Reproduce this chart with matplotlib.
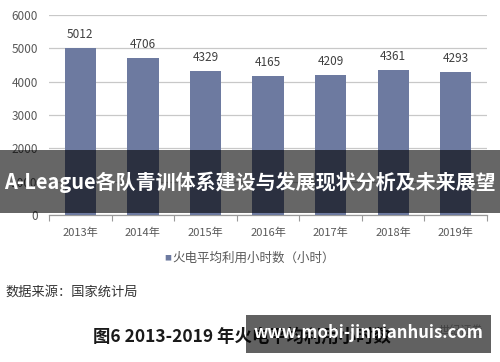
import matplotlib
matplotlib.use('Agg')
import matplotlib.pyplot as plt
from matplotlib.patches import Rectangle

plt.rcParams['font.family'] = ['Noto Sans CJK SC', 'DejaVu Sans']
plt.rcParams['axes.unicode_minus'] = False

# ===== data =====
years = ['2013年', '2014年', '2015年', '2016年', '2017年', '2018年', '2019年']
hours = [5012, 4706, 4329, 4165, 4209, 4361, 4293]
y_ticks = [0, 1000, 2000, 3000, 4000, 5000, 6000]

legend_label = '火电平均利用小时数（小时）'
source_text = '数据来源：国家统计局'
caption = '图6 2013-2019 年火电平均利用小时数'
banner = 'A-League各队青训体系建设与发展现状分析及未来展望'
watermark = 'www.mobi-jinnianhuis.com'

BAR_C = '#6d7aa0'
TXT_C = '#595959'

fig = plt.figure(figsize=(5, 3.62), dpi=100)
ax = fig.add_axes([0.098, 0.406, 0.876, 0.5525])

x = range(len(years))
ax.bar(x, hours, width=0.5, color=BAR_C, zorder=3)
for xi, v in zip(x, hours):
    ax.annotate(str(v), (xi, v), xytext=(0, 5), textcoords='offset points',
                ha='center', va='bottom', fontsize=8.5, color='#404040')

ax.set_xlim(-0.5, len(years) - 0.5)
ax.set_ylim(0, 6000)
ax.set_yticks(y_ticks)
ax.set_yticklabels([str(t) for t in y_ticks], fontsize=8.5, color=TXT_C)
ax.set_xticks(list(x))
ax.set_xticklabels(years, fontsize=8, color=TXT_C)
ax.set_xticks([i - 0.5 for i in range(len(years) + 1)], minor=True)
ax.tick_params(axis='x', which='major', length=0, pad=9)
ax.tick_params(axis='x', which='minor', length=4, color='#999999', width=0.8)
ax.tick_params(axis='y', length=0, pad=8)
ax.grid(axis='y', color='#c8c8c8', lw=0.9, zorder=0)
for s in ['top', 'right', 'left']:
    ax.spines[s].set_visible(False)
ax.spines['bottom'].set_color('#999999')
ax.spines['bottom'].set_linewidth(0.9)

# legend
fig.text(0.336, 1 - 258 / 362, '■', fontsize=5, color=BAR_C, ha='center', va='center')
fig.text(0.344, 1 - 258 / 362, legend_label, fontsize=9, color=TXT_C, ha='left', va='center')

fig.text(0.01, 1 - 292 / 362, source_text, fontsize=9.5, color='#333333', ha='left', va='center')
fig.text(0.186, 1 - 337 / 362, caption, fontsize=12.5, fontweight='bold', color='#1a1a1a',
         ha='left', va='center')

# overlays
fig.patches.append(Rectangle((0, 1 - 213 / 362), 1, 63 / 362, transform=fig.transFigure,
                             facecolor='black', alpha=0.6, edgecolor='none', zorder=5))
fig.text(0.5, 1 - 182 / 362, banner, fontsize=14.4, fontweight='bold', color='white',
         ha='center', va='center', zorder=6)

fig.text(0.965, 1 - 330 / 362, '世纪证券', fontsize=8, color='#aaaaaa', ha='right',
         va='center', zorder=4)
fig.patches.append(Rectangle((246 / 500, 1 - 353 / 362), 245 / 500, 38 / 362,
                             transform=fig.transFigure, facecolor='black', alpha=0.62,
                             edgecolor='none', zorder=5))
fig.text(0.737, 1 - 333 / 362, watermark, fontsize=12, fontweight='bold', color='white',
         ha='center', va='center', zorder=6)

fig.savefig('out.png', dpi=100)
